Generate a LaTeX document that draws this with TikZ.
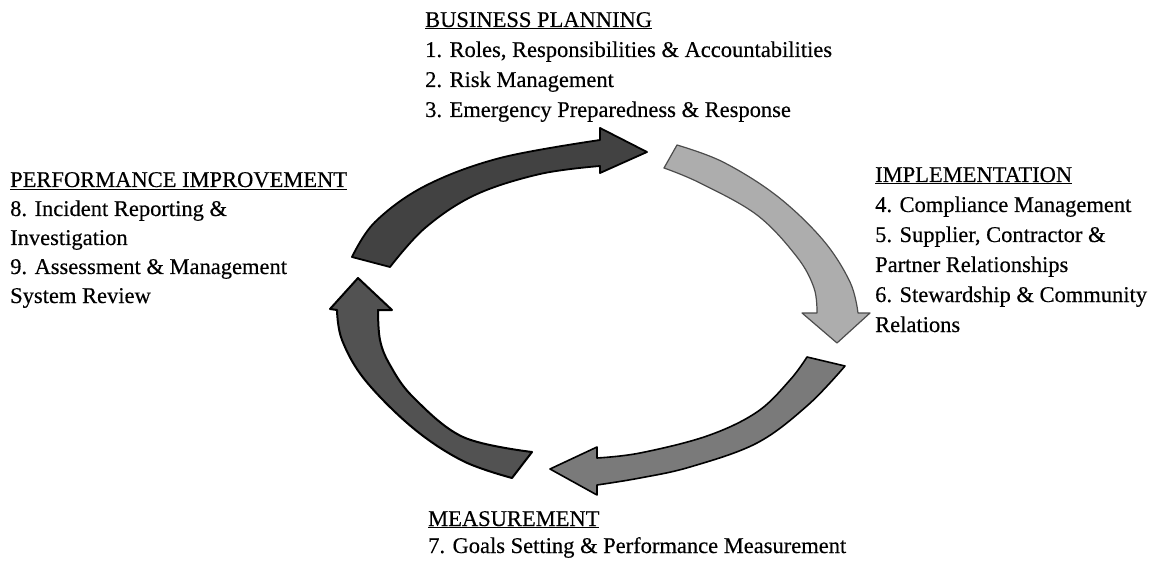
\documentclass[tikz,border=0pt]{standalone}
\usepackage{fontspec}
\setmainfont{Liberation Serif}[FakeBold=0.35]
\begin{document}
\begin{tikzpicture}[x=1pt,y=-1pt,
  lbl/.style={anchor=base west,inner sep=0pt,font=\fontsize{22.5}{27}\selectfont},
  darkarrow/.style={fill=black!74,draw=black,line width=1.8pt,line join=round},
  lightarrow/.style={fill=black!32,draw=black!70,line width=1.2pt,line join=round},
  midarrow/.style={fill=black!52,draw=black,line width=1.6pt,line join=round},
  hatcharrow/.style={fill=black!68,draw=black,line width=2pt,line join=round}]
\useasboundingbox (0,0) rectangle (1156,561);

% top arrow: performance improvement -> business planning
\filldraw[darkarrow] plot[smooth,tension=0.6] coordinates {(352,257) (375,222) (425,186) (500,158) (600,140)}
  -- (600,128) -- (647,152) -- (600,173) -- (600,166)
  -- plot[smooth,tension=0.6] coordinates {(600,166) (540,174) (475,195) (425,228) (390,267)} -- cycle;

% right arrow: business planning -> implementation
\filldraw[lightarrow] plot[smooth,tension=0.6] coordinates {(677,145) (723,162) (777,196) (823,240) (850,282) (858,313)}
  -- (870,313) -- (837,343) -- (802,313) -- (817,313)
  -- plot[smooth,tension=0.6] coordinates {(817,313) (814,288) (797,257) (757,215) (700,183) (664,168)} -- cycle;

% bottom arrow: implementation -> measurement
\filldraw[midarrow] plot[smooth,tension=0.6] coordinates {(845,366) (808,405) (757,443) (690,467) (640,478) (597,485)}
  -- (597,495) -- (550,469) -- (597,447) -- (597,458)
  -- plot[smooth,tension=0.6] coordinates {(597,458) (640,453) (707,436) (757,412) (790,380) (807,357)} -- cycle;

% left arrow: measurement -> performance improvement
\filldraw[hatcharrow] plot[smooth,tension=0.6] coordinates {(512,478) (463,461) (413,428) (365,380) (342,340) (337,310)}
  -- (330,309) -- (358,278) -- (392,310) -- (378,310)
  -- plot[smooth,tension=0.6] coordinates {(378,310) (380,340) (390,365) (413,397) (463,437) (532,452)} -- cycle;

% business planning
\node[lbl] (bph) at (425,27) {\underline{BUSINESS PLANNING}};
\node[lbl] (bp1) at (425,57) {1. Roles, Responsibilities \& Accountabilities};
\node[lbl] (bp2) at (425,87) {2. Risk Management};
\node[lbl] (bp3) at (425,117) {3. Emergency Preparedness \& Response};

% performance improvement
\node[lbl] (pih) at (10,187) {\underline{PERFORMANCE IMPROVEMENT}};
\node[lbl] (pi1) at (10,216) {8. Incident Reporting \&};
\node[lbl] (pi2) at (10,245) {Investigation};
\node[lbl] (pi3) at (10,274) {9. Assessment \& Management};
\node[lbl] (pi4) at (10,303) {System Review};

% implementation
\node[lbl] (imh) at (875,182) {\underline{IMPLEMENTATION}};
\node[lbl] (im1) at (875,212) {4. Compliance Management};
\node[lbl] (im2) at (875,242) {5. Supplier, Contractor \&};
\node[lbl] (im3) at (875,272) {Partner Relationships};
\node[lbl] (im4) at (875,302) {6. Stewardship \& Community};
\node[lbl] (im5) at (875,332) {Relations};

% measurement
\node[lbl] (meh) at (428,526) {\underline{MEASUREMENT}};
\node[lbl] (me1) at (428,553) {7. Goals Setting \& Performance Measurement};
\end{tikzpicture}
\end{document}
